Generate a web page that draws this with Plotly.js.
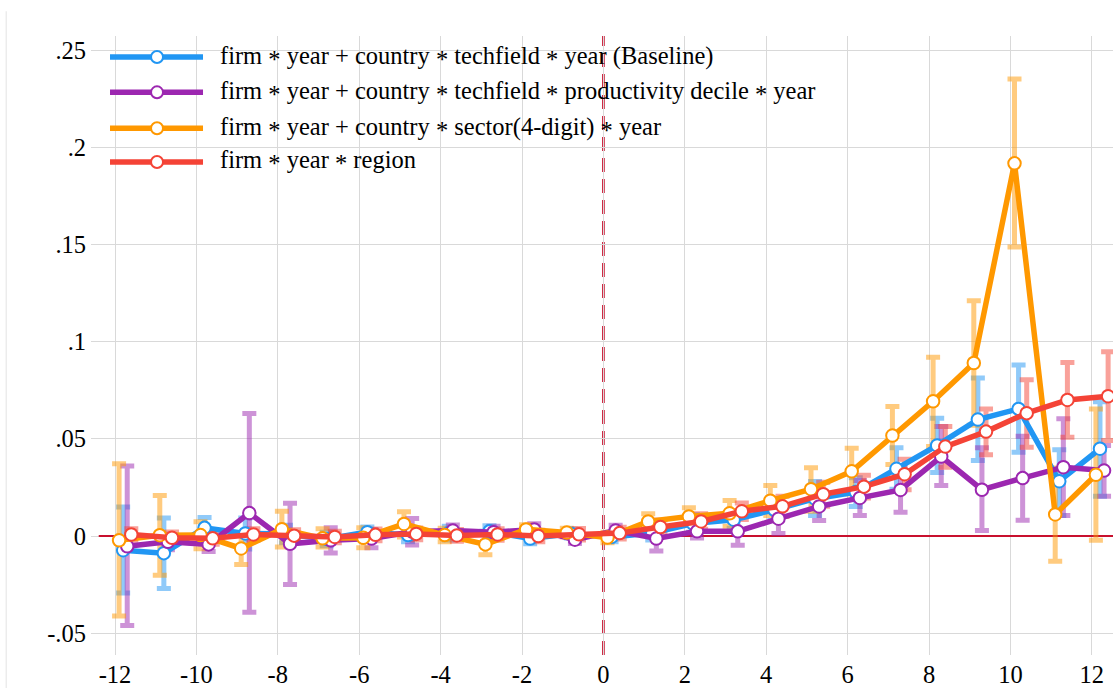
<!DOCTYPE html>
<html>
<head>
<meta charset="utf-8">
<script src="https://cdn.plot.ly/plotly-3.0.1.min.js"></script>
<style>
html, body { margin: 0; padding: 0; background: #fff; }
#chart { width: 1113px; height: 688px; }
</style>
</head>
<body>
<div id="chart"></div>
<script>
// ---------- data ----------
const eventTime = [-12,-11,-10,-9,-8,-7,-6,-5,-4,-3,-2,-1,0,1,2,3,4,5,6,7,8,9,10,11,12];

const seriesNames = [
  "firm \u2217 year + country \u2217 techfield \u2217 year (Baseline)",
  "firm \u2217 year + country \u2217 techfield \u2217 productivity decile \u2217 year",
  "firm \u2217 year + country \u2217 sector(4-digit) \u2217 year",
  "firm \u2217 year \u2217 region"
];

const baselineCoef = [-0.0073,-0.0088,0.0042,0.0013,0.0010,-0.0015,0.0020,0.0005,0.0015,0.0024,-0.0013,0.0012,-0.0005,0.0015,0.0064,0.0084,0.0135,0.0192,0.0226,0.0346,0.0466,0.0599,0.0654,0.0282,0.0449];
const baselineLo   = [-0.0293,-0.0270,-0.0010,-0.0067,-0.0035,-0.0050,-0.0005,-0.0030,-0.0020,-0.0005,-0.0040,-0.0010,-0.0030,-0.0020,0.0020,0.0040,0.0080,0.0106,0.0152,0.0240,0.0327,0.0389,0.0431,0.0106,0.0205];
const baselineHi   = [0.0149,0.0093,0.0095,0.0093,0.0055,0.0020,0.0046,0.0040,0.0050,0.0053,0.0015,0.0035,0.0020,0.0050,0.0110,0.0130,0.0190,0.0280,0.0300,0.0454,0.0606,0.0813,0.0880,0.0444,0.0691];

const decileCoef = [-0.0053,-0.0030,-0.0043,0.0118,-0.0040,-0.0022,-0.0013,0.0022,0.0028,0.0020,0.0034,-0.0019,0.0028,-0.0013,0.0024,0.0024,0.0089,0.0152,0.0196,0.0237,0.0409,0.0238,0.0298,0.0354,0.0337];
const decileLo   = [-0.0460,-0.0070,-0.0080,-0.0392,-0.0250,-0.0087,-0.0060,-0.0046,-0.0002,-0.0010,0.0005,-0.0039,0.0000,-0.0077,-0.0010,-0.0048,0.0013,0.0080,0.0106,0.0122,0.0260,0.0029,0.0081,0.0106,0.0205];
const decileHi   = [0.0360,0.0010,-0.0005,0.0630,0.0169,0.0043,0.0034,0.0090,0.0057,0.0050,0.0063,0.0001,0.0056,0.0050,0.0058,0.0096,0.0166,0.0224,0.0286,0.0353,0.0563,0.0454,0.0513,0.0603,0.0466];

const sectorCoef = [-0.0022,0.0004,0.0005,-0.0064,0.0035,-0.0012,-0.0009,0.0062,0.0005,-0.0043,0.0034,0.0018,-0.0008,0.0075,0.0101,0.0117,0.0182,0.0241,0.0333,0.0517,0.0693,0.0890,0.1917,0.0111,0.0315];
const sectorLo   = [-0.0412,-0.0202,-0.0065,-0.0146,-0.0056,-0.0056,-0.0060,-0.0005,-0.0030,-0.0096,0.0010,-0.0005,-0.0035,0.0035,0.0056,0.0050,0.0106,0.0128,0.0216,0.0368,0.0460,0.0570,0.1487,-0.0130,-0.0022];
const sectorHi   = [0.0372,0.0209,0.0074,0.0016,0.0128,0.0038,0.0043,0.0125,0.0040,0.0010,0.0058,0.0040,0.0020,0.0115,0.0146,0.0183,0.0260,0.0351,0.0452,0.0666,0.0919,0.1210,0.2351,0.0350,0.0654];

const regionCoef = [0.0008,-0.0009,-0.0012,0.0008,0.0002,-0.0005,0.0006,0.0011,0.0003,0.0008,0.0000,0.0009,0.0015,0.0046,0.0075,0.0127,0.0153,0.0215,0.0254,0.0318,0.0460,0.0537,0.0632,0.0700,0.0719];
const regionLo   = [-0.0022,-0.0039,-0.0042,-0.0022,-0.0028,-0.0035,-0.0024,-0.0019,-0.0027,-0.0022,-0.0030,-0.0021,-0.0015,0.0010,0.0035,0.0085,0.0100,0.0153,0.0196,0.0238,0.0354,0.0418,0.0457,0.0508,0.0491];
const regionHi   = [0.0038,0.0021,0.0018,0.0038,0.0032,0.0025,0.0036,0.0041,0.0033,0.0038,0.0030,0.0039,0.0045,0.0082,0.0115,0.0170,0.0205,0.0277,0.0312,0.0395,0.0563,0.0654,0.0804,0.0893,0.0948];

const yTickVals  = [-0.05, 0, 0.05, 0.1, 0.15, 0.2, 0.25];
const yTickText  = ["-.05", "0", ".05", ".1", ".15", ".2", ".25"];
const xTickVals  = [-12,-10,-8,-6,-4,-2,0,2,4,6,8,10,12];
const xTickText  = ["-12","-10","-8","-6","-4","-2","0","2","4","6","8","10","12"];

// ---------- styling ----------
const series = [
  {name: seriesNames[0], coef: baselineCoef, lo: baselineLo, hi: baselineHi, color: "rgb(33,150,243)", shift: 0.2},
  {name: seriesNames[1], coef: decileCoef,   lo: decileLo,   hi: decileHi,   color: "rgb(156,39,176)", shift: 0.3},
  {name: seriesNames[2], coef: sectorCoef,   lo: sectorLo,   hi: sectorHi,   color: "rgb(255,152,0)",  shift: 0.1},
  {name: seriesNames[3], coef: regionCoef,   lo: regionLo,   hi: regionHi,   color: "rgb(244,67,54)",  shift: 0.4}
];
const fade = c => c.replace("rgb(", "rgba(").replace(")", ",0.5)");
const FONT = "Liberation Serif";
const CRIMSON = "rgb(200,16,46)";
// thin, centred asterisk like the original typeface
const legendLabel = n => n.split("\u2217").join('<span style="baseline-shift:-0.16em">*</span>');

const traces = [];
// confidence intervals first (behind all lines)
series.forEach(s => {
  traces.push({
    type: "scatter", mode: "markers",
    x: eventTime.map(t => t + s.shift), y: s.coef,
    marker: {size: 1, color: "rgba(0,0,0,0)"},
    error_y: {
      type: "data", symmetric: false,
      array: s.hi.map((h, i) => h - s.coef[i]),
      arrayminus: s.lo.map((l, i) => s.coef[i] - l),
      color: fade(s.color), thickness: 5, width: 7
    },
    hoverinfo: "skip", showlegend: false
  });
});
series.forEach(s => {
  traces.push({
    type: "scatter", mode: "lines+markers", name: s.name,
    x: eventTime.map(t => t + s.shift), y: s.coef,
    line: {color: s.color, width: 5.5},
    marker: {size: 12.5, color: "white", line: {color: s.color, width: 2}},
    showlegend: false
  });
});

// custom legend (long line keys as in the original)
const shapes = [];
const annotations = [];
const legRowY = [0.966, 0.909, 0.851, 0.7965];
series.forEach((s, i) => {
  shapes.push({type: "line", xref: "paper", yref: "paper", x0: 0.0186, x1: 0.1096, y0: legRowY[i], y1: legRowY[i],
               line: {color: s.color, width: 5.5}, layer: "above"});
  shapes.push({type: "circle", xref: "paper", yref: "paper", xsizemode: "pixel", ysizemode: "pixel",
               xanchor: 0.0646, yanchor: legRowY[i], x0: -6, x1: 6, y0: -6, y1: 6,
               fillcolor: "white", line: {color: s.color, width: 2}, layer: "above"});
  annotations.push({xref: "paper", yref: "paper", x: 0.1243, y: legRowY[i], xanchor: "left", yanchor: "middle",
                    text: legendLabel(s.name), showarrow: false, font: {family: FONT, size: 24.5, color: "#000"}});
});
// reference lines (between gridlines and traces)
shapes.push({type: "line", xref: "x", yref: "y", x0: -12.4, x1: 13, y0: 0, y1: 0,
             line: {color: CRIMSON, width: 2}, layer: "between"});
shapes.push({type: "line", xref: "x", yref: "paper", x0: 0, x1: 0, y0: 0, y1: 1,
             line: {color: CRIMSON, width: 2.6, dash: "14px,7px"}, layer: "between"});
// outer frame edge
shapes.push({type: "line", xref: "paper", yref: "paper", x0: -0.083, x1: -0.083, y0: -0.06, y1: 1.04,
             line: {color: "#e3e3e3", width: 1}, layer: "below"});

const layout = {
  width: 1113, height: 688,
  margin: {l: 91, r: 0, t: 36, b: 33},
  paper_bgcolor: "white", plot_bgcolor: "white",
  showlegend: false,
  font: {family: FONT, size: 24, color: "#000"},
  xaxis: {
    range: [-12.59, 12.52], tickvals: xTickVals, ticktext: xTickText,
    showgrid: true, gridcolor: "#d9d9d9", gridwidth: 1, zeroline: false,
    ticks: "", showline: false, ticklabelstandoff: 2,
    tickfont: {family: FONT, size: 24.5, color: "#000"}
  },
  yaxis: {
    range: [-0.0612, 0.2572], tickvals: yTickVals, ticktext: yTickText,
    showgrid: true, gridcolor: "#d9d9d9", gridwidth: 1, zeroline: false,
    ticks: "", showline: false, ticklabelstandoff: 4,
    tickfont: {family: FONT, size: 24.5, color: "#000"}
  },
  shapes: shapes,
  annotations: annotations
};

Plotly.newPlot("chart", traces, layout, {displayModeBar: false, staticPlot: true});
</script>
</body>
</html>
